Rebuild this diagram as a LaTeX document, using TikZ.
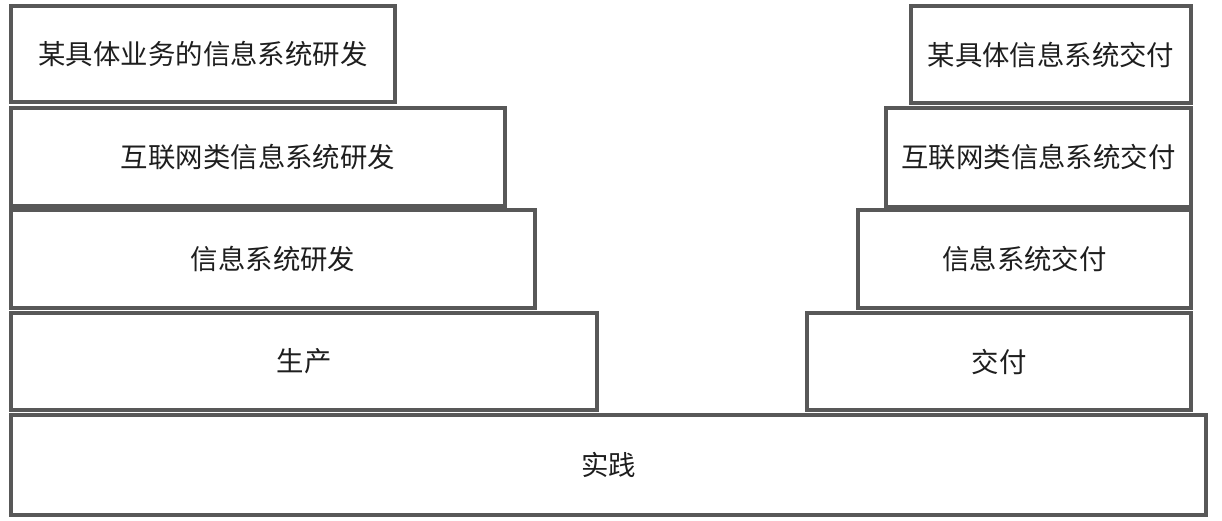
\documentclass[tikz,border=0pt]{standalone}
\usepackage{fontspec}
\setmainfont{Noto Sans CJK SC}
\usepackage{xcolor}
\usepackage{tikz}
\usetikzlibrary{positioning}

\definecolor{edgegray}{HTML}{585858}
\definecolor{labelgray}{HTML}{1E1E1E}

\begin{document}
\begin{tikzpicture}[
  x=0.02cm, y=-0.02cm,
  font=\fontsize{15.6pt}{18pt}\selectfont,
  tier/.style={draw=edgegray, line width=2pt, fill=white, text=labelgray,
    anchor=north west, inner sep=0pt, outer sep=0pt, align=center},
  tall/.style={minimum height=#1*0.02cm}
]
\useasboundingbox (0,0) rectangle (1222,520);

% ============ BASE ============
\node[tier, minimum width=1195*0.02cm, tall=100] (prac) at (11,415) {实践};

% ============ LEFT : DEVELOPMENT ============
\node[tier, minimum width=586*0.02cm, tall=97] (prod)  at (11,313) {生产};
\node[tier, minimum width=524*0.02cm, tall=98] (isdev) at (11,210) {信息系统研发};
\node[tier, minimum width=494*0.02cm, tall=98] (webdev) at (11,108) {互联网类信息系统研发};
\node[tier, minimum width=384*0.02cm, tall=96] (bizdev) at (11,6) {某具体业务的信息系统研发};

% ============ RIGHT : DELIVERY ============
\node[tier, minimum width=384*0.02cm, tall=97] (deliv)  at (807,313) {交付};
\node[tier, minimum width=333*0.02cm, tall=98] (isdel)  at (858,210) {信息系统交付};
\node[tier, minimum width=305*0.02cm, tall=99] (webdel) at (886,108) {互联网类信息系统交付};
\node[tier, minimum width=280*0.02cm, tall=97] (bizdel) at (911,6) {某具体信息系统交付};

\end{tikzpicture}
\end{document}
